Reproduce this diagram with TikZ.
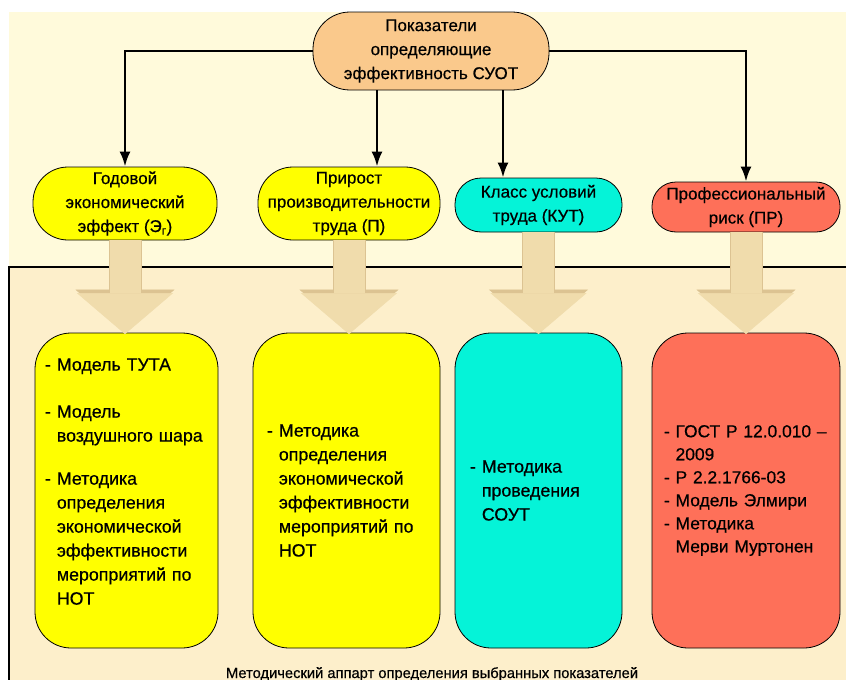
\documentclass[tikz,border=0pt]{standalone}
\usepackage{fontspec}
\setmainfont{Liberation Sans}[FakeBold=0.5]
\usetikzlibrary{arrows.meta,positioning}
\definecolor{bgcream}{HTML}{FFFADB}
\definecolor{panel}{HTML}{FDEFCB}
\definecolor{orng}{HTML}{FAC98C}
\definecolor{ylw}{HTML}{FFFF00}
\definecolor{aqua}{HTML}{05F3D8}
\definecolor{salmon}{HTML}{FE7059}
\definecolor{beige}{HTML}{F0DCAC}
\definecolor{beigedk}{HTML}{DCC392}
\newcommand{\indnt}{\hphantom{- }}
\tikzset{
  kpi/.style={rectangle, rounded corners=#1, draw=black, line width=0.8pt,
              align=center, inner sep=2pt, font=\fontsize{17}{24}\selectfont},
  meth/.style={rectangle, rounded corners=36pt, draw=black, line width=0.8pt,
               align=left, inner sep=0pt, minimum height=315pt, font=\fontsize{17.8}{24}\selectfont},
  fl/.style={-{Latex[length=15pt,width=11pt]}, line width=2.5pt},
  fatedge/.style={-{Triangle[length=43pt,width=99pt,line width=0.5pt]}, line width=33pt, draw=beigedk},
  fat/.style={-{Triangle[length=41pt,width=96pt,line width=0.5pt]}, line width=31pt, draw=beige},
}

\begin{document}
\begin{tikzpicture}[x=1pt, y=-1pt]
  \useasboundingbox (0,0) rectangle (846,680);
  \clip (0,0) rectangle (846,680);
  \fill[bgcream] (9,12) rectangle (846,680);
  \draw[line width=2pt, fill=panel] (9,267) rectangle (870,700);

  % indicators
  \node[kpi=37pt, fill=orng, minimum width=236pt, minimum height=78pt] (suot) at (431,51) {Показатели\\определяющие\\эффективность СУОТ};
  \node[kpi=35pt, fill=ylw, minimum width=184pt, minimum height=73pt] (eff) at (125,203.5) {Годовой\\экономический\\эффект (Э\textsubscript{г})};
  \node[kpi=35pt, fill=ylw, minimum width=182pt, minimum height=73pt] (prod) at (349,203.5) {Прирост\\производительности\\труда (П)};
  \node[kpi=26pt, fill=aqua, minimum width=167pt, minimum height=54pt] (kut) at (538.5,205) {Класс условий\\труда (КУТ)};
  \node[kpi=24pt, fill=salmon, minimum width=188pt, minimum height=50pt] (risk) at (746,207) {Профессиональный\\риск (ПР)};

  % methods
  \node[meth, fill=ylw, minimum width=183pt, text width=163pt] (m1) at (126.5,490.5) {- Модель ТУТА\\[23pt]- Модель\\\indnt воздушного шара\\[19pt]- Методика\\\indnt определения\\\indnt экономической\\\indnt эффективности\\\indnt мероприятий по\\\indnt НОТ\\[-6pt]\mbox{}};
  \node[meth, fill=ylw, minimum width=187pt, text width=159pt] (m2) at (346.5,490.5) {- Методика\\\indnt определения\\\indnt экономической\\\indnt эффективности\\\indnt мероприятий по\\\indnt НОТ};
  \node[meth, fill=aqua, minimum width=167pt, text width=137pt] (m3) at (538.5,490.5) {- Методика\\\indnt проведения\\\indnt СОУТ};
  \node[meth, fill=salmon, minimum width=188pt, text width=164pt, font=\fontsize{17.4}{23}\selectfont] (m4) at (746,490.5) {\mbox{- ГОСТ Р 12.0.010 –}\\\indnt 2009\\- Р 2.2.1766-03\\- Модель Элмири\\- Методика\\\indnt Мерви Муртонен};

  \node[font=\fontsize{14.7}{16}\selectfont, anchor=base] (apparat) at (432,678) {Методический аппарт определения выбранных показателей};

  \draw[fl] (suot.west) -| (eff.north);
  \draw[fl] (suot.east) -| (risk.north);
  \draw[fl] ([xshift=-54pt]suot.south) -- ([xshift=-54pt]suot.south |- prod.north);
  \draw[fl] ([xshift=72pt]suot.south) -- ([xshift=72pt]suot.south |- kut.north);

  \foreach \a/\b in {eff/m1, prod/m2, kut/m3, risk/m4}{
    \draw[fatedge] (\a.south) -- (\a.south |- \b.north);
    \draw[fat] (\a.south) -- ([yshift=-1.5pt]\a.south |- \b.north);
  }
\end{tikzpicture}
\end{document}
